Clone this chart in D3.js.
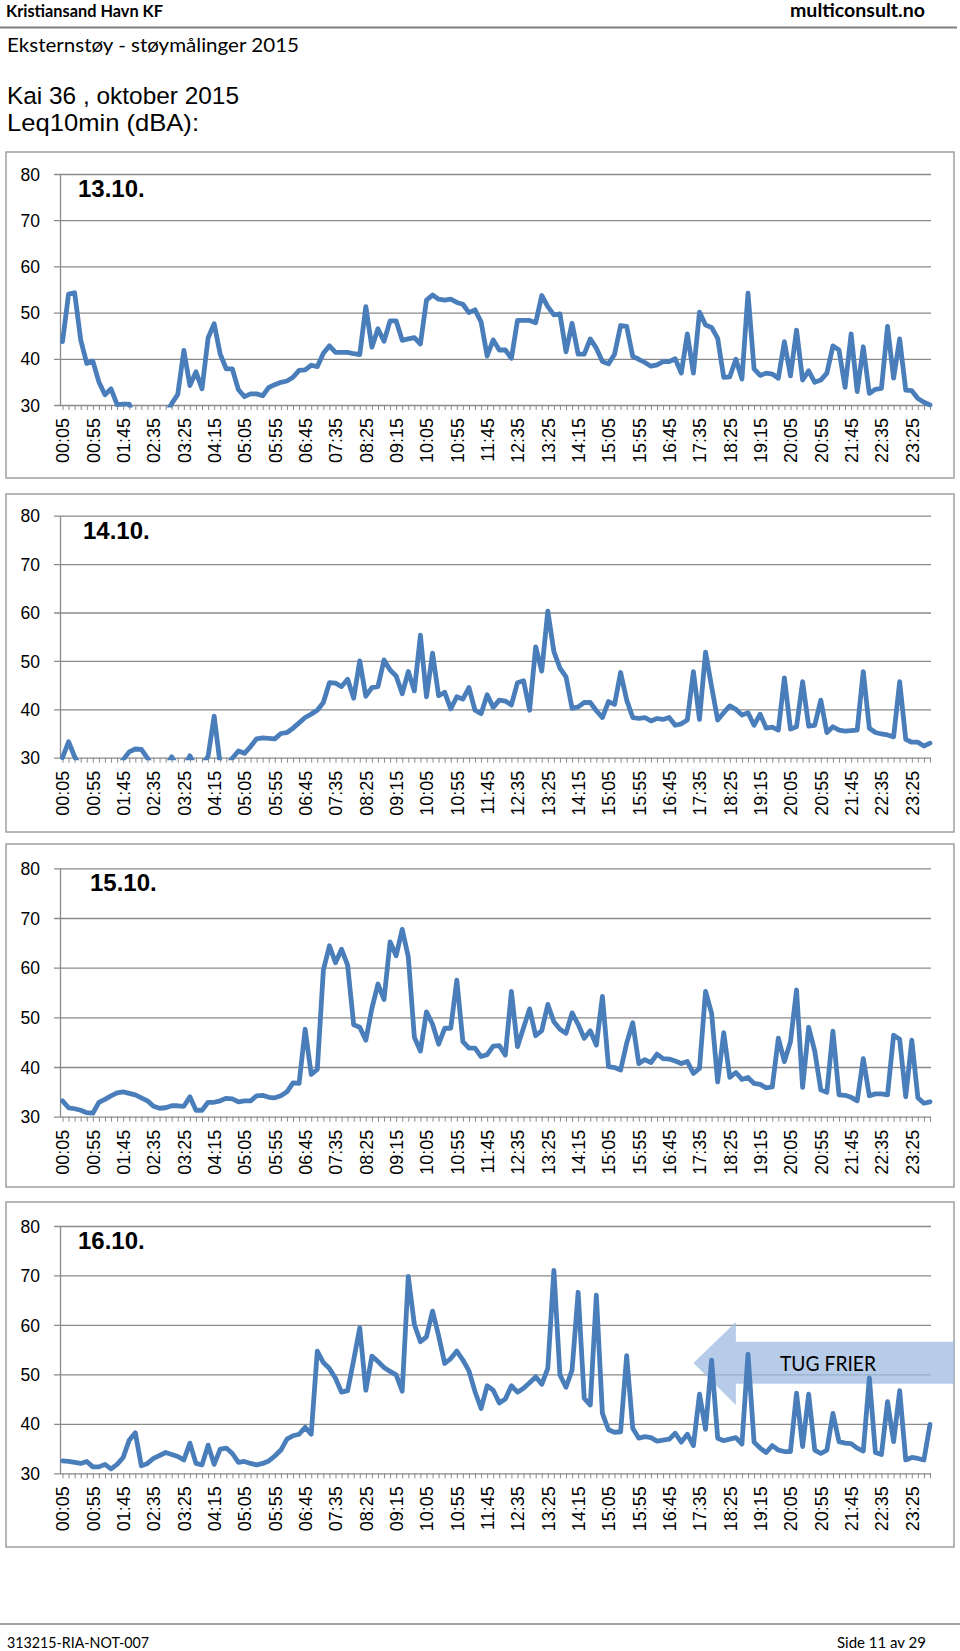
<!DOCTYPE html>
<html><head><meta charset="utf-8">
<script src="https://cdn.jsdelivr.net/npm/d3@7"></script>
<style>html,body{margin:0;padding:0;background:#fff;} svg{display:block}</style>
</head><body>
<script>
// ---------- DATA ----------
const days = ["13.10.", "14.10.", "15.10.", "16.10."];
const tickLabels = ["00:05","00:55","01:45","02:35","03:25","04:15","05:05","05:55","06:45","07:35","08:25","09:15","10:05","10:55","11:45","12:35","13:25","14:15","15:05","15:55","16:45","17:35","18:25","19:15","20:05","20:55","21:45","22:35","23:25"];
const yTicks = [30, 40, 50, 60, 70, 80];
// Leq10min (dBA), one value per 10 minutes, 00:05 ... 23:55 (values under 30 fall below the axis)
const leq13 = [
43.7,54.0,54.3,44.1,39.0,39.5,35.0,32.2,33.5,30.1,
30.2,30.2,26.0,27.0,27.0,27.0,27.0,28.0,30.3,32.3,
41.8,34.2,37.2,33.5,44.5,47.6,41.0,37.8,37.8,33.3,
31.8,32.4,32.4,32.0,33.8,34.4,34.9,35.2,36.0,37.5,
37.6,38.6,38.3,41.2,42.8,41.4,41.4,41.4,41.1,40.9,
51.3,42.5,46.5,43.8,48.2,48.2,44.0,44.3,44.6,43.2,
52.7,53.8,52.9,52.7,52.9,52.2,51.8,50.0,50.6,48.0,
40.6,44.1,41.9,41.9,40.1,48.3,48.3,48.3,47.8,53.7,
51.3,49.5,49.7,41.5,47.7,41.0,41.0,44.3,42.3,39.4,
38.9,41.0,47.2,47.0,40.5,39.9,39.2,38.4,38.7,39.4,
39.4,40.0,36.9,45.4,36.9,50.1,47.3,46.8,44.4,36.0,
36.1,39.9,35.6,54.2,37.8,36.4,36.9,36.7,35.8,43.7,
36.3,46.2,35.4,37.4,34.9,35.4,36.9,42.8,41.9,33.8,
45.4,32.9,42.6,32.5,33.4,33.6,47.0,35.8,44.3,33.2,
33.1,31.4,30.6,30.0];
const leq14 = [
30.0,33.3,30.2,28.0,28.0,28.0,28.0,28.0,28.0,28.0,
29.6,31.2,31.8,31.7,29.9,28.0,28.0,28.0,30.2,28.0,
28.0,30.4,28.0,28.5,30.3,38.6,28.5,28.0,29.9,31.4,
30.9,32.3,33.9,34.1,34.0,33.9,35.0,35.2,36.1,37.2,
38.3,39.0,39.8,41.4,45.5,45.4,44.7,46.2,42.3,50.0,
42.7,44.5,44.7,50.2,48.1,46.9,43.2,47.8,43.8,55.3,
42.6,51.6,42.8,43.5,40.1,42.6,42.1,44.5,39.8,39.1,
43.0,40.4,41.9,41.7,40.9,45.5,45.9,39.8,52.9,47.9,
60.3,51.9,48.5,46.7,40.2,40.5,41.4,41.4,39.7,38.3,
41.6,41.0,47.6,41.9,38.3,38.1,38.3,37.6,38.1,37.9,
38.3,36.7,37.0,37.8,47.8,37.9,51.8,44.7,37.8,39.3,
40.7,40.0,38.8,39.3,36.7,39.0,36.1,36.3,35.7,46.5,
35.9,36.4,45.7,36.5,36.7,41.9,35.2,36.4,35.7,35.5,
35.6,35.7,47.8,36.1,35.2,34.9,34.7,34.3,45.7,33.8,
33.2,33.2,32.4,33.0];
const leq15 = [
33.2,31.8,31.6,31.3,30.8,30.7,32.9,33.5,34.2,34.8,
35.0,34.7,34.4,33.8,33.2,32.1,31.7,31.8,32.2,32.2,
32.1,34.0,31.3,31.3,32.9,32.9,33.2,33.7,33.6,33.0,
33.2,33.2,34.2,34.3,33.9,33.8,34.2,35.0,36.8,36.7,
47.6,38.5,39.5,59.5,64.4,61.0,63.7,60.5,48.5,48.0,
45.4,51.8,56.7,53.6,65.2,62.4,67.7,62.2,46.0,43.2,
51.1,48.6,44.6,47.8,47.8,57.5,45.1,43.8,43.8,42.1,
42.5,44.2,44.3,42.4,55.2,44.1,47.9,51.7,46.3,47.3,
52.6,49.1,47.6,46.8,50.9,48.6,45.8,47.3,44.4,54.2,
40.1,39.9,39.4,44.8,48.9,40.7,41.5,40.9,42.6,41.7,
41.6,41.2,40.7,41.1,38.7,39.7,55.2,50.8,37.0,46.9,
37.9,38.9,37.5,37.9,36.7,36.5,35.8,36.0,45.8,41.1,
45.1,55.5,35.9,48.0,43.2,35.4,34.9,47.2,34.4,34.3,
33.9,33.2,41.7,34.2,34.6,34.6,34.4,46.4,45.6,34.0,
45.4,33.8,32.7,33.0];
const leq16 = [
32.5,32.4,32.2,32.0,32.4,31.3,31.3,31.8,30.9,31.8,
33.2,36.7,38.2,31.5,32.0,33.0,33.6,34.2,33.8,33.4,
32.7,36.1,32.0,31.7,35.7,31.8,34.9,35.1,34.0,32.2,
32.4,32.0,31.7,32.0,32.5,33.5,34.7,36.9,37.6,37.9,
39.3,37.9,54.7,52.4,51.2,49.2,46.4,46.7,52.9,59.4,
46.8,53.7,52.6,51.4,50.6,49.9,46.6,69.8,60.1,56.6,
57.6,62.8,57.8,52.2,53.2,54.7,52.9,50.7,46.5,43.1,
47.7,46.8,44.2,45.0,47.7,46.4,47.2,48.3,49.5,48.0,
51.2,71.0,49.9,47.4,50.9,66.6,45.2,43.8,66.0,42.1,
38.8,38.3,38.4,53.8,39.1,37.1,37.4,37.2,36.5,36.7,
36.9,38.1,36.3,37.9,35.6,46.0,38.9,52.9,37.1,36.6,
36.9,37.2,35.9,54.1,36.3,35.1,34.2,35.6,34.7,34.4,
34.4,46.2,35.4,46.0,34.7,34.0,34.7,42.1,36.4,36.1,
36.0,35.1,34.5,49.3,34.2,33.8,44.5,36.4,46.7,32.7,
33.2,33.0,32.7,39.9];
const series = [leq13, leq14, leq15, leq16];
const annotationText = "TUG FRIER";

// categories: 10-minute intervals 00:05 ... 23:55
const times = d3.range(144).map(i => {
  const m = 5 + i * 10;
  return String(Math.floor(m / 60)).padStart(2, "0") + ":" + String(m % 60).padStart(2, "0");
});

// ---------- LAYOUT ----------
const layout = [
  {box: [6, 152, 954, 478], top: 174, bottom: 405, titleX: 78},
  {box: [6, 494, 954, 832], top: 515.7, bottom: 757.7, titleX: 83},
  {box: [6, 844, 954, 1187], top: 868.3, bottom: 1116.7, titleX: 90},
  {box: [6, 1202, 954, 1547], top: 1226, bottom: 1473.3, titleX: 78}
];
const plotLeft = 60, plotRight = 931;
const gridColor = "#8a8a8a", lineColor = "#4a7ebb";

const svg = d3.select("body").append("svg").attr("width", 960).attr("height", 1651)
  .style("background", "#fff");

function txt(x, y, s, opts) {
  const t = svg.append("text").attr("x", x).attr("y", y).text(s)
    .attr("font-family", opts.family).attr("font-size", opts.size).attr("fill", "#000");
  if (opts.bold) t.attr("font-weight", "bold");
  if (opts.anchor) t.attr("text-anchor", opts.anchor);
  if (opts.len) t.attr("textLength", opts.len).attr("lengthAdjust", "spacingAndGlyphs");
  return t;
}

// header
txt(6, 17, "Kristiansand Havn KF", {family: "Lato", size: 17, bold: true, len: 157});
txt(925, 17, "multiconsult.no", {family: "Lato", size: 18, bold: true, anchor: "end", len: 135});
svg.append("line").attr("x1", 0).attr("x2", 957).attr("y1", 27.5).attr("y2", 27.5)
  .attr("stroke", "#7f7f7f").attr("stroke-width", 2);
txt(7, 52, "Eksternstøy - støymålinger 2015", {family: "Lato", size: 20, len: 292});
txt(7, 104, "Kai 36 , oktober 2015", {family: "Liberation Sans, Arial", size: 24.5, len: 232});
txt(7, 131, "Leq10min (dBA):", {family: "Liberation Sans, Arial", size: 24.5, len: 192});

// footer
svg.append("line").attr("x1", 0).attr("x2", 960).attr("y1", 1624).attr("y2", 1624)
  .attr("stroke", "#7f7f7f").attr("stroke-width", 1.5);
txt(7, 1648, "313215-RIA-NOT-007", {family: "Lato", size: 15, len: 142});
txt(926, 1648, "Side 11 av 29", {family: "Lato", size: 15, anchor: "end", len: 89});

const tickSet = new Set(tickLabels);

layout.forEach((L, k) => {
  const g = svg.append("g");
  const [bx0, by0, bx1, by1] = L.box;
  g.append("rect").attr("x", bx0).attr("y", by0).attr("width", bx1 - bx0).attr("height", by1 - by0)
    .attr("fill", "#fff").attr("stroke", "#a0a0a0").attr("stroke-width", 1.5);

  const x = d3.scalePoint().domain(times).range([62.5, 930]);
  const y = d3.scaleLinear().domain([30, 80]).range([L.bottom, L.top]);

  // y axis with gridlines
  const yAxis = d3.axisLeft(y).tickValues(yTicks).tickSize(-(plotRight - plotLeft)).tickSizeOuter(0).tickPadding(20);
  const ya = g.append("g").attr("transform", `translate(${plotLeft},0)`).call(yAxis);
  ya.select(".domain").attr("stroke", gridColor).attr("stroke-width", 1.3);
  ya.selectAll(".tick line").attr("stroke", gridColor).attr("stroke-width", 1.3).attr("x1", -6);
  ya.selectAll(".tick text").attr("font-family", "Liberation Sans, Arial").attr("font-size", 17.5)
    .attr("fill", "#000").attr("x", -20).attr("dy", "0.35em");

  // x axis: minor ticks at every category, labels every 5th
  const xAxis = d3.axisBottom(x).tickSize(5).tickSizeOuter(0).tickFormat(d => tickSet.has(d) ? d : "");
  const xa = g.append("g").attr("transform", `translate(0,${L.bottom})`).call(xAxis);
  xa.select(".domain").remove();
  xa.selectAll(".tick line").attr("stroke", gridColor).attr("stroke-width", 1);
  xa.selectAll(".tick text")
    .attr("font-family", "Liberation Sans, Arial").attr("font-size", 18).attr("fill", "#000")
    .attr("text-anchor", "end").attr("transform", "rotate(-90)")
    .attr("x", -13).attr("y", 0).attr("dy", "0.36em");

  // title
  g.append("text").attr("x", L.titleX).attr("y", L.top + 23).text(days[k])
    .attr("font-family", "Liberation Sans, Arial").attr("font-weight", "bold").attr("font-size", 24);

  // annotation arrow on last panel
  if (k === 3) {
    const tipX = x(times[104]), headX = x(times[111]);
    const pts = [
      [tipX, y(52.3)], [headX, y(60.6)], [headX, y(56.6)], [954, y(56.6)],
      [954, y(48.1)], [headX, y(48.1)], [headX, y(43.8)]
    ];
    g.append("path").attr("d", d3.line()(pts) + "Z").attr("fill", "#9fbbe0").attr("opacity", 0.75);
    g.append("text").attr("x", 780).attr("y", y(50.6)).text(annotationText)
      .attr("font-family", "Lato").attr("font-size", 21).attr("fill", "#000")
      .attr("textLength", 96).attr("lengthAdjust", "spacingAndGlyphs");
  }

  // clip & line
  const cid = "clip" + k;
  svg.append("defs").append("clipPath").attr("id", cid).append("rect")
    .attr("x", plotLeft).attr("y", L.top - 5).attr("width", plotRight - plotLeft + 3)
    .attr("height", L.bottom - L.top + 7.5);
  const line = d3.line().x((d, i) => x(times[i])).y(d => y(d));
  g.append("path").datum(series[k]).attr("clip-path", `url(#${cid})`)
    .attr("d", line).attr("fill", "none").attr("stroke", lineColor)
    .attr("stroke-width", 4.8).attr("stroke-linejoin", "round").attr("stroke-linecap", "round");
});
</script>
</body></html>
